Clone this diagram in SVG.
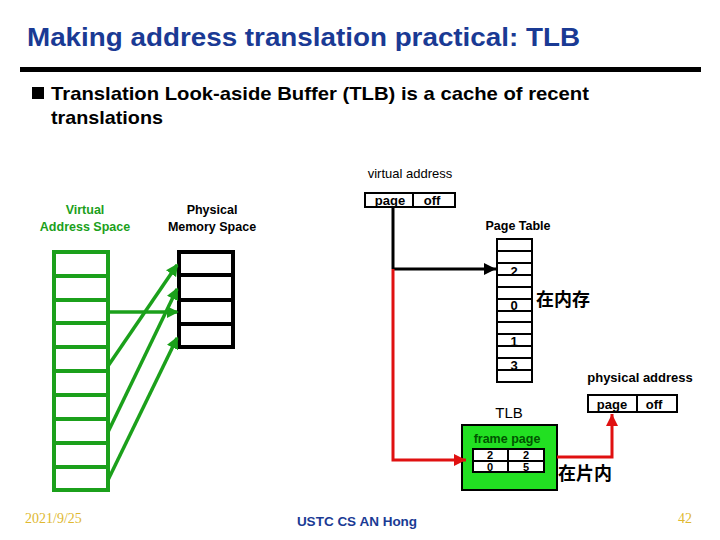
<svg xmlns="http://www.w3.org/2000/svg" width="720" height="540" viewBox="0 0 720 540">
<defs>
<style>
.t{font-family:"Liberation Sans",Arial,sans-serif}
.b{font-weight:bold}
.g{stroke:#1ba01b;stroke-width:4;fill:#fff}
.k{stroke:#000;stroke-width:4;fill:#fff}
.gl{stroke:#1ba01b;stroke-width:3.5;fill:none}
.cell{stroke:#000;stroke-width:2;fill:#fff}
.cj{font-family:"Noto Sans CJK SC",sans-serif;font-weight:bold;font-size:18px}
</style>
<marker id="ag" markerWidth="3.5" markerHeight="3.5" refX="3" refY="1.75" orient="auto" markerUnits="strokeWidth"><path d="M0,0 L3.5,1.75 L0,3.5 Z" fill="#1ba01b"/></marker>
<marker id="ak" markerWidth="4" markerHeight="4" refX="4" refY="2" orient="auto" markerUnits="strokeWidth"><path d="M0,0 L4,2 L0,4 Z" fill="#000"/></marker>
<marker id="ar" markerWidth="4" markerHeight="4" refX="4" refY="2" orient="auto" markerUnits="strokeWidth"><path d="M0,0 L4,2 L0,4 Z" fill="#e01010"/></marker>
</defs>
<rect width="720" height="540" fill="#fff"/>
<g id="title">
<text class="t b" x="27" y="46" font-size="25" fill="#1a3a94" textLength="553" lengthAdjust="spacingAndGlyphs">Making address translation practical: TLB</text>
<rect x="20" y="67" width="681" height="5" fill="#000"/>
</g>
<g id="bullet">
<rect x="32" y="87" width="12" height="12" fill="#000"/>
<text class="t b" x="51" y="100" font-size="19" fill="#000" textLength="538" lengthAdjust="spacingAndGlyphs">Translation Look-aside Buffer (TLB)  is a cache of recent</text>
<text class="t b" x="51" y="124" font-size="19" fill="#000" textLength="112" lengthAdjust="spacingAndGlyphs">translations</text>
</g>
<g id="virtual-space">
<text class="t b" x="85" y="214" font-size="12.5" fill="#1ba01b" text-anchor="middle">Virtual</text>
<text class="t b" x="85" y="231" font-size="12.5" fill="#1ba01b" text-anchor="middle">Address Space</text>
<rect class="g" x="54" y="252" width="54" height="238"/>
<path class="g" d="M54,276H108M54,300H108M54,323H108M54,347H108M54,371H108M54,395H108M54,419H108M54,443H108M54,467H108"/>
</g>
<g id="physical-space">
<text class="t b" x="212" y="214" font-size="12.5" fill="#000" text-anchor="middle">Physical</text>
<text class="t b" x="212" y="231" font-size="12.5" fill="#000" text-anchor="middle">Memory Space</text>
<rect class="k" x="179" y="252" width="54" height="95"/>
<path class="k" d="M179,275H233M179,300H233M179,324H233"/>
</g>
<g id="virtual-address">
<text class="t" x="410" y="178" font-size="13" fill="#000" text-anchor="middle">virtual address</text>
<rect x="365" y="193" width="90" height="14" fill="#fff" stroke="#000" stroke-width="2"/>
<line x1="413" y1="193" x2="413" y2="207" stroke="#000" stroke-width="2"/>
<text class="t b" x="390" y="205" font-size="13" text-anchor="middle">page</text>
<text class="t b" x="432" y="205" font-size="13" text-anchor="middle">off</text>
</g>
<g id="page-table">
<text class="t b" x="518" y="230" font-size="12.5" text-anchor="middle">Page Table</text>
<rect class="cell" x="497" y="239" width="35" height="143"/>
<path stroke="#000" stroke-width="2" d="M497,251H532M497,263H532M497,275H532M497,287H532M497,299H532M497,311H532M497,322H532M497,334H532M497,346H532M497,358H532M497,370H532"/>
<g class="t b" font-size="13" text-anchor="middle">
<text x="514" y="276">2</text>
<text x="514" y="310">0</text>
<text x="514" y="346">1</text>
<text x="514" y="370">3</text>
</g>
<text class="cj" x="536" y="306">在内存</text>
</g>
<g id="physical-address">
<text class="t b" x="640" y="382" font-size="13" text-anchor="middle">physical address</text>
<rect x="588" y="395" width="89" height="17" fill="#fff" stroke="#000" stroke-width="2"/>
<line x1="637" y1="395" x2="637" y2="412" stroke="#000" stroke-width="2"/>
<text class="t b" x="612" y="409" font-size="13" text-anchor="middle">page</text>
<text class="t b" x="654" y="409" font-size="13" text-anchor="middle">off</text>
</g>
<g id="tlb">
<text class="t" x="509" y="418" font-size="15" text-anchor="middle">TLB</text>
<rect x="462" y="425" width="95" height="65" fill="#22e022" stroke="#000" stroke-width="2"/>
<text class="t b" x="507" y="443" font-size="12.5" fill="#005500" text-anchor="middle">frame  page</text>
<rect class="cell" x="473" y="449" width="71" height="23"/>
<path stroke="#000" stroke-width="2" d="M508,449V472M473,461H544"/>
<g class="t b" font-size="11" text-anchor="middle">
<text x="490" y="459">2</text>
<text x="526" y="459">2</text>
<text x="490" y="471">0</text>
<text x="526" y="471">5</text>
</g>
<text class="cj" x="558" y="480">在片内</text>
</g>
<g id="connectors">
<path class="gl" d="M108,312H177" marker-end="url(#ag)"/>
<path class="gl" d="M108,366L177,265" marker-end="url(#ag)"/>
<path class="gl" d="M108,432L177,289" marker-end="url(#ag)"/>
<path class="gl" d="M108,480L177,338" marker-end="url(#ag)"/>
<path d="M393,207V269" stroke="#000" stroke-width="3" fill="none"/>
<path d="M393,269H496" stroke="#000" stroke-width="3" fill="none" marker-end="url(#ak)"/>
<path d="M393,269V460H466" stroke="#e01010" stroke-width="3" fill="none" marker-end="url(#ar)"/>
<path d="M557,457H612V414" stroke="#e01010" stroke-width="3" fill="none" marker-end="url(#ar)"/>
</g>
<g id="footer">
<text x="25" y="523" font-family="Liberation Serif,serif" font-size="14" fill="#e0b830">2021/9/25</text>
<text class="t b" x="357" y="526" font-size="13.5" fill="#1a3a94" text-anchor="middle">USTC CS AN Hong</text>
<text x="678" y="523" font-family="Liberation Serif,serif" font-size="14" fill="#e0b830">42</text>
</g>
</svg>
